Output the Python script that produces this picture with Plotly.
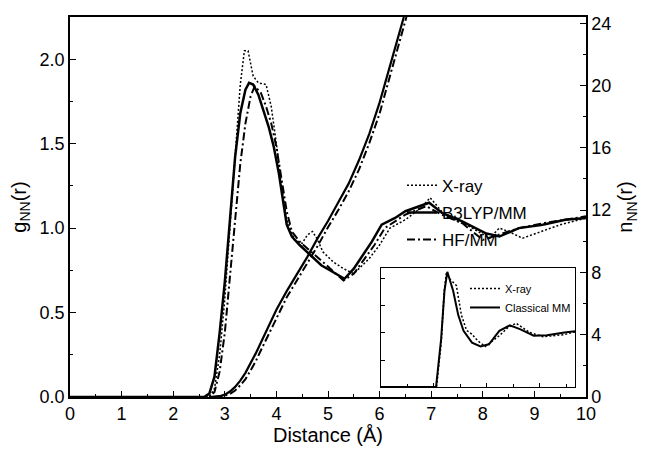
import plotly.graph_objects as go

# ---------------- main panel: g_NN(r) ----------------
r_xray = [0.0, 2.6, 2.7, 2.8, 2.9, 3.0, 3.1, 3.2, 3.3, 3.38, 3.45, 3.55, 3.65, 3.8, 3.9, 4.0, 4.1, 4.2,
          4.35, 4.5, 4.6, 4.7, 4.8, 4.9, 5.1, 5.3, 5.5, 5.8, 6.0, 6.2, 6.5, 6.8, 6.98, 7.2, 7.5, 7.74,
          8.13, 8.32, 8.5, 8.77, 9.03, 9.5, 10.0]
g_xray = [0.0, 0.0, 0.0, 0.05, 0.25, 0.58, 1.0, 1.45, 1.85, 2.05, 2.05, 1.9, 1.86, 1.85, 1.72, 1.5, 1.25, 1.05,
          0.93, 0.91, 0.96, 0.98, 0.93, 0.86, 0.8, 0.76, 0.73, 0.82, 0.9, 1.0, 1.05, 1.12, 1.18, 1.1, 1.04, 1.01,
          0.94, 1.0, 0.98, 0.94, 0.97, 1.02, 1.06]

r_b3 = [0.0, 2.6, 2.7, 2.8, 2.9, 3.0, 3.1, 3.2, 3.3, 3.4, 3.47, 3.55, 3.65, 3.75, 3.85, 3.95, 4.05, 4.12,
        4.2, 4.3, 4.45, 4.87, 5.1, 5.32, 5.5, 5.85, 6.04, 6.3, 6.5, 6.96, 7.21, 7.6, 8.05, 8.32, 8.7,
        9.16, 9.6, 10.0]
g_b3 = [0.0, 0.0, 0.02, 0.12, 0.38, 0.68, 1.05, 1.42, 1.68, 1.82, 1.86, 1.85, 1.79, 1.7, 1.6, 1.48, 1.32, 1.18,
        1.02, 0.95, 0.9, 0.78, 0.74, 0.7, 0.76, 0.92, 1.02, 1.06, 1.1, 1.15, 1.09, 1.04, 0.97, 0.95, 1.0,
        1.02, 1.05, 1.06]

r_hf = [0.0, 2.7, 2.8, 2.9, 3.0, 3.1, 3.2, 3.3, 3.4, 3.5, 3.58, 3.7, 3.8, 3.9, 4.0, 4.1, 4.2, 4.3, 4.45,
        4.9, 5.3, 5.5, 5.9, 6.1, 6.5, 6.9, 7.2, 7.6, 8.0, 8.3, 8.7, 9.2, 9.6, 10.0]
g_hf = [0.0, 0.0, 0.03, 0.15, 0.38, 0.7, 1.05, 1.38, 1.62, 1.78, 1.84, 1.8, 1.72, 1.62, 1.48, 1.3, 1.1, 0.98, 0.92,
        0.8, 0.69, 0.73, 0.9, 1.0, 1.08, 1.13, 1.08, 1.03, 0.93, 0.96, 1.0, 1.03, 1.05, 1.07]

# ---------------- main panel: n_NN(r) (right axis) ----------------
rn_b3 = [2.7, 2.9, 3.0, 3.1, 3.2, 3.3, 3.4, 3.5, 3.6, 3.7, 3.8, 3.9, 4.0, 4.2, 4.4, 4.6, 4.8, 5.0, 5.2,
         5.4, 5.6, 5.8, 6.0, 6.2, 6.47]
n_b3 = [0.0, 0.05, 0.15, 0.35, 0.65, 1.05, 1.55, 2.15, 2.8, 3.5, 4.2, 4.9, 5.6, 6.8, 7.9, 9.0, 10.2, 11.3, 12.5,
        13.7, 15.2, 16.9, 18.9, 21.3, 24.4]

rn_hf = [2.8, 3.0, 3.1, 3.2, 3.3, 3.4, 3.5, 3.6, 3.7, 3.8, 3.9, 4.0, 4.2, 4.4, 4.6, 4.8, 5.0, 5.2, 5.4,
         5.6, 5.8, 6.0, 6.2, 6.52]
n_hf = [0.0, 0.08, 0.2, 0.42, 0.75, 1.15, 1.7, 2.3, 3.0, 3.7, 4.4, 5.1, 6.4, 7.5, 8.6, 9.7, 10.9, 12.0, 13.2,
        14.6, 16.3, 18.2, 20.6, 24.4]

# ---------------- inset ----------------
ri_mm = [0.0, 3.12, 3.41, 3.6, 3.76, 4.09, 4.38, 4.68, 5.16, 5.64, 6.12, 6.71, 7.3, 7.88, 8.66, 9.41, 10.4, 11.0]
gi_mm = [0.0, 0.0, 0.89, 1.78, 2.13, 1.78, 1.33, 1.04, 0.82, 0.75, 0.79, 1.04, 1.14, 1.07, 0.95, 0.96, 1.01, 1.03]

ri_xr = [0.0, 3.15, 3.42, 3.58, 3.7, 3.95, 4.27, 4.56, 4.85, 5.14, 5.5, 5.91, 6.71, 7.2, 7.66, 8.43, 9.2, 10.4, 11.0]
gi_xr = [0.0, 0.0, 0.85, 1.75, 2.1, 1.98, 1.88, 1.33, 1.05, 0.98, 0.85, 0.75, 0.95, 1.1, 1.18, 1.01, 0.93, 0.97, 1.02]

FONT = "Arial, Liberation Sans, Helvetica, sans-serif"
DOT = "2px,2px"
DASHDOT = "8px,3px,2px,3px"

fig = go.Figure()

fig.add_trace(go.Scatter(x=r_xray, y=g_xray, mode="lines", name="X-ray",
                         line=dict(color="black", width=1.5, dash=DOT), xaxis="x", yaxis="y",
                         legend="legend", legendgroup="a"))
fig.add_trace(go.Scatter(x=r_b3, y=g_b3, mode="lines", name="B3LYP/MM",
                         line=dict(color="black", width=2.5), xaxis="x", yaxis="y",
                         legend="legend", legendgroup="b"))
fig.add_trace(go.Scatter(x=r_hf, y=g_hf, mode="lines", name="HF/MM",
                         line=dict(color="black", width=2, dash=DASHDOT), xaxis="x", yaxis="y",
                         legend="legend", legendgroup="c"))
fig.add_trace(go.Scatter(x=rn_b3, y=n_b3, mode="lines", name="B3LYP/MM n",
                         line=dict(color="black", width=2.2), xaxis="x", yaxis="y2",
                         showlegend=False, legendgroup="b"))
fig.add_trace(go.Scatter(x=rn_hf, y=n_hf, mode="lines", name="HF/MM n",
                         line=dict(color="black", width=2, dash=DASHDOT), xaxis="x", yaxis="y2",
                         showlegend=False, legendgroup="c"))

fig.add_trace(go.Scatter(x=ri_xr, y=gi_xr, mode="lines", name="X-ray",
                         line=dict(color="black", width=1.5, dash=DOT), xaxis="x2", yaxis="y3",
                         legend="legend2"))
fig.add_trace(go.Scatter(x=ri_mm, y=gi_mm, mode="lines", name="Classical MM",
                         line=dict(color="black", width=2), xaxis="x2", yaxis="y3",
                         legend="legend2"))

# page has an 8px body margin; plot area targets 70..586 px (x) and 14..397 px (y) in the window
def px_x(p):
    return (p - 70) / 516.0

def px_y(p):
    return (397 - p) / 383.0

axis_common = dict(showline=True, linecolor="black", linewidth=1.5, ticks="inside",
                   tickcolor="black", showgrid=False, zeroline=False,
                   tickfont=dict(family=FONT, size=18, color="black"))

fig.update_layout(
    width=638, height=441,
    margin=dict(l=62, r=60, t=6, b=52),
    paper_bgcolor="white", plot_bgcolor="white",
    font=dict(family=FONT, color="black"),
    xaxis=dict(range=[0, 10], dtick=1, ticklen=6, tickwidth=1.2, mirror=True,
               minor=dict(dtick=0.5, ticklen=3, ticks="inside", tickcolor="black"),
               title=dict(text="Distance (Å)", font=dict(family=FONT, size=20), standoff=0),
               **axis_common),
    yaxis=dict(range=[0, 2.25], dtick=0.5, tickformat=".1f", ticklen=6, tickwidth=1.2,
               minor=dict(dtick=0.25, ticklen=3, ticks="inside", tickcolor="black"),
               title=dict(text="g<sub>NN</sub>(r)", font=dict(family=FONT, size=20), standoff=8),
               **axis_common),
    yaxis2=dict(range=[0, 24.4], dtick=4, overlaying="y", side="right", ticklen=6, tickwidth=1.2,
                minor=dict(dtick=2, ticklen=3, ticks="inside", tickcolor="black"),
                title=dict(text="n<sub>NN</sub>(r)", font=dict(family=FONT, size=20), standoff=8),
                **axis_common),
    xaxis2=dict(domain=[px_x(381), px_x(575)], anchor="y3", range=[0, 11], dtick=3,
                showticklabels=False, showline=True, linecolor="black", linewidth=1.2, mirror=True,
                ticks="inside", ticklen=4, tickcolor="black", showgrid=False, zeroline=False,
                minor=dict(dtick=1.5, ticklen=3, ticks="inside", tickcolor="black")),
    yaxis3=dict(domain=[px_y(387), px_y(267)], anchor="x2", range=[0, 2.2], dtick=0.5,
                showticklabels=False, showline=True, linecolor="black", linewidth=1.2, mirror=True,
                ticks="inside", ticklen=4, tickcolor="black", showgrid=False, zeroline=False),
    legend=dict(x=px_x(402), y=px_y(166), xanchor="left", yanchor="top",
                bgcolor="rgba(0,0,0,0)", font=dict(family=FONT, size=17, color="black"),
                traceorder="grouped", tracegroupgap=2, itemwidth=30),
    legend2=dict(x=px_x(465), y=px_y(273), xanchor="left", yanchor="top",
                 bgcolor="rgba(0,0,0,0)", font=dict(family=FONT, size=11, color="black"),
                 tracegroupgap=0, itemwidth=30),
)

fig.write_html("out.html")
